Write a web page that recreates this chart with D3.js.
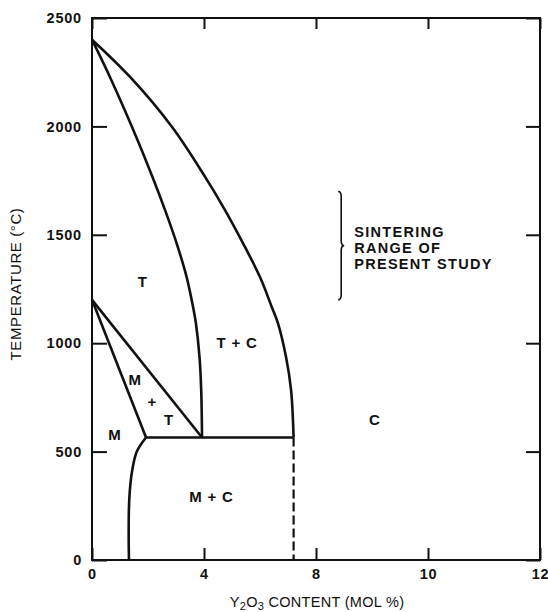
<!DOCTYPE html>
<html>
<head>
<meta charset="utf-8">
<script src="https://cdn.jsdelivr.net/npm/d3@7"></script>
<style>
  body { margin: 0; background: #fff; }
  svg { display: block; }
  text { font-family: "Liberation Sans", Arial, Helvetica, sans-serif; fill: #111; }
</style>
</head>
<body>
<svg id="chart" width="548" height="612"></svg>
<script>
// tick labels (the original figure spaces 0,4,8,10,12 evenly)
var xTicks = [0, 4, 8, 10, 12];
var yTicks = [0, 500, 1000, 1500, 2000, 2500];

// phase boundaries, [mol % Y2O3, temperature C]
var tToTcLine = [[0,2400],[0.64,2228],[1.43,1997],[2.16,1767],[2.61,1614],[3.02,1462],[3.38,1305],
                 [3.61,1167],[3.71,1093],[3.84,936],[3.9,784],[3.93,565]];
var tcToCLine = [[0,2400],[1.36,2228],[2.86,1997],[4.04,1767],[4.75,1614],[5.39,1462],[6.0,1305],
                 [6.42,1167],[6.64,1093],[6.93,936],[7.11,784],[7.2,565]];
var mtUpperLine = [[0,1200],[3.93,565]];
var mtLowerLine = [[0,1200],[1.93,565]];
var eutectoidLine = [[1.93,565],[7.2,565]];
var mToMcLine = [[1.93,565],[1.6,500],[1.42,400],[1.33,277],[1.31,125],[1.32,0]];
var cBoundaryDashed = [[7.2,565],[7.2,0]];

// region labels
var regionNames = ["T", "T + C", "M", "M", "+", "T", "M + C", "C"];
var regionX = [1.81, 5.18, 0.82, 1.54, 2.15, 2.75, 4.27, 9.05];
var regionT = [1284, 1000, 576, 830, 730, 646, 292, 646];

// sintering range annotation
var sinterRange = [1200, 1700];
var sinterX = 8.45;
var sinterLines = ["SINTERING", "RANGE OF", "PRESENT STUDY"];

var margin = {top: 18, right: 8, bottom: 52, left: 92},
    width = 548 - margin.left - margin.right,
    height = 612 - margin.top - margin.bottom;

var svg = d3.select("#chart");
var g = svg.append("g")
    .attr("transform", "translate(" + margin.left + "," + margin.top + ")");

var x = d3.scaleLinear()
    .domain(xTicks)
    .range(xTicks.map(function(d, i) { return i * width / (xTicks.length - 1); }));

var y = d3.scaleLinear()
    .domain([0, 2500])
    .range([height, 0]);

function styleAxis(sel) {
    sel.select(".domain").remove();
    sel.selectAll(".tick line").attr("stroke", "#111").attr("stroke-width", 2);
    sel.selectAll(".tick text")
        .attr("font-size", 14.5)
        .attr("font-weight", "bold")
        .attr("letter-spacing", "0.8px")
        .attr("font-family", "Liberation Sans, Arial, sans-serif");
}

g.append("g")
    .attr("transform", "translate(0," + height + ")")
    .call(d3.axisBottom(x).tickValues(xTicks).tickSize(-12).tickPadding(9).tickFormat(d3.format("d")))
    .call(styleAxis);

g.append("g")
    .call(d3.axisTop(x).tickValues(xTicks).tickSize(-11).tickFormat(""))
    .call(styleAxis);

g.append("g")
    .call(d3.axisLeft(y).tickValues(yTicks).tickSize(-15).tickPadding(10).tickFormat(d3.format("d")))
    .call(styleAxis);

g.append("g")
    .attr("transform", "translate(" + width + ",0)")
    .call(d3.axisRight(y).tickValues(yTicks).tickSize(-14).tickFormat(""))
    .call(styleAxis);

// frame
g.append("rect")
    .attr("width", width)
    .attr("height", height)
    .attr("fill", "none")
    .attr("stroke", "#111")
    .attr("stroke-width", 2);

var smooth = d3.line()
    .x(function(d) { return x(d[0]); })
    .y(function(d) { return y(d[1]); })
    .curve(d3.curveCatmullRom.alpha(0.5));

var straight = d3.line()
    .x(function(d) { return x(d[0]); })
    .y(function(d) { return y(d[1]); });

[tToTcLine, tcToCLine, mToMcLine].forEach(function(pts) {
    g.append("path")
        .attr("d", smooth(pts))
        .attr("fill", "none")
        .attr("stroke", "#111")
        .attr("stroke-width", 2.6);
});

[mtUpperLine, mtLowerLine, eutectoidLine].forEach(function(pts) {
    g.append("path")
        .attr("d", straight(pts))
        .attr("fill", "none")
        .attr("stroke", "#111")
        .attr("stroke-width", 2.6);
});

g.append("path")
    .attr("d", straight(cBoundaryDashed))
    .attr("fill", "none")
    .attr("stroke", "#111")
    .attr("stroke-width", 2.2)
    .attr("stroke-dasharray", "9,4");

g.selectAll(".region")
    .data(regionNames)
    .enter().append("text")
    .attr("class", "region")
    .attr("x", function(d, i) { return x(regionX[i]); })
    .attr("y", function(d, i) { return y(regionT[i]); })
    .attr("dy", "0.35em")
    .attr("text-anchor", "middle")
    .attr("font-size", 15)
    .attr("font-weight", "bold")
    .attr("letter-spacing", "0.8px")
    .text(function(d) { return d; });

// brace "}" for the sintering range
var bx = x(sinterX), yTop = y(sinterRange[1]), yBot = y(sinterRange[0]), yMid = (yTop + yBot) / 2;
var brace = d3.path();
brace.moveTo(bx - 3, yTop);
brace.quadraticCurveTo(bx, yTop, bx, yTop + 5);
brace.lineTo(bx, yMid - 5);
brace.quadraticCurveTo(bx, yMid, bx + 3, yMid);
brace.quadraticCurveTo(bx, yMid, bx, yMid + 5);
brace.lineTo(bx, yBot - 5);
brace.quadraticCurveTo(bx, yBot, bx - 3, yBot);
g.append("path")
    .attr("d", brace.toString())
    .attr("fill", "none")
    .attr("stroke", "#111")
    .attr("stroke-width", 1.6);

g.selectAll(".sinter")
    .data(sinterLines)
    .enter().append("text")
    .attr("class", "sinter")
    .attr("x", bx + 13)
    .attr("y", function(d, i) { return yMid + (i - 1) * 16 + 2; })
    .attr("dy", "0.35em")
    .attr("font-size", 14.5)
    .attr("font-weight", "bold")
    .attr("letter-spacing", "1.3px")
    .text(function(d) { return d; });

// axis titles
svg.append("text")
    .attr("transform", "translate(16," + 284 + ") rotate(-90)")
    .attr("text-anchor", "middle")
    .attr("dy", "0.35em")
    .attr("font-size", 15)
    .attr("letter-spacing", "0.6px")
    .text("TEMPERATURE (\u00B0C)");

var xTitle = svg.append("text")
    .attr("x", margin.left + width / 2 + 1)
    .attr("y", 607)
    .attr("text-anchor", "middle")
    .attr("font-size", 14.5)
    .attr("letter-spacing", "0.3px");
xTitle.append("tspan").text("Y");
xTitle.append("tspan").attr("font-size", 11).attr("dy", 3).text("2");
xTitle.append("tspan").attr("dy", -3).text("O");
xTitle.append("tspan").attr("font-size", 11).attr("dy", 3).text("3");
xTitle.append("tspan").attr("dy", -3).text(" CONTENT (MOL %)");
</script>
</body>
</html>
